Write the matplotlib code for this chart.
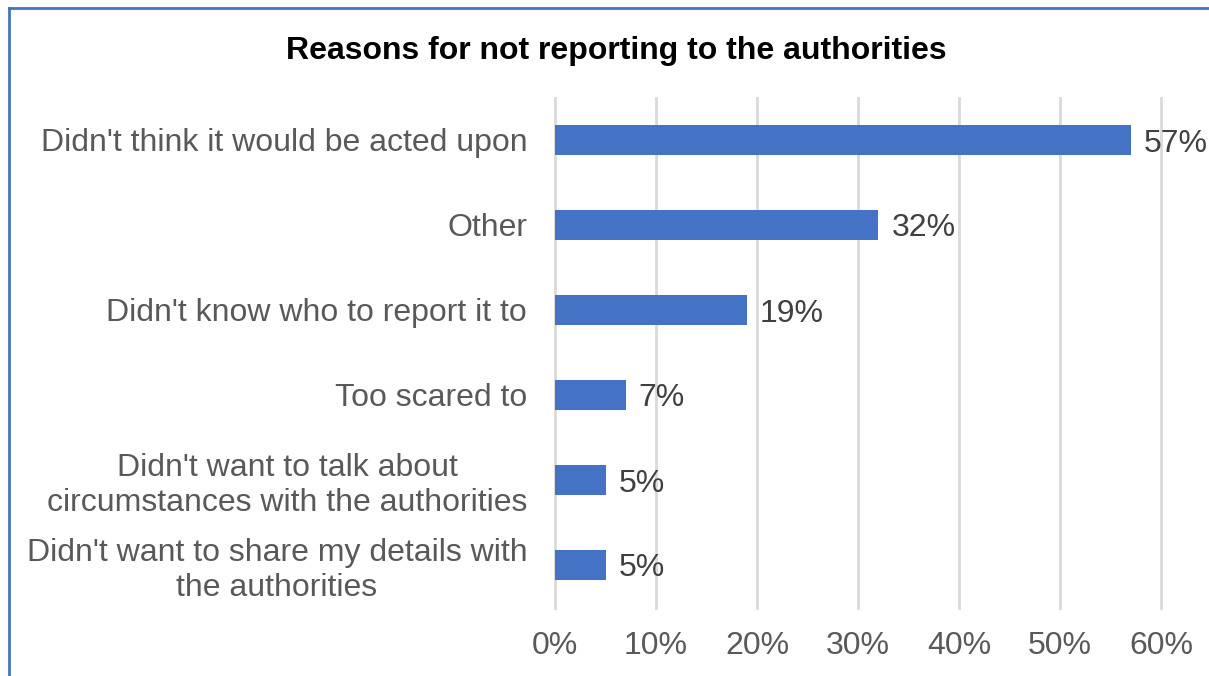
import matplotlib
matplotlib.use("Agg")
import matplotlib.pyplot as plt
from matplotlib.lines import Line2D
from matplotlib.ticker import FuncFormatter

plt.rcParams['font.family'] = ['Liberation Sans', 'DejaVu Sans']

categories = [
    "Didn't think it would be acted upon",
    "Other",
    "Didn't know who to report it to",
    "Too scared to",
    "Didn't want to talk about\ncircumstances with the authorities",
    "Didn't want to share my details with\nthe authorities",
]
values = [57, 32, 19, 7, 5, 5]
xticks = [0, 10, 20, 30, 40, 50, 60]

bar_color = "#4472C4"
text_color = "#595959"
value_color = "#404040"
grid_color = "#D9D9D9"
fs = 23

W, H = 1209, 676
fig = plt.figure(figsize=(W / 100, H / 100), dpi=100)
ax = fig.add_axes([555 / W, 1 - 607.5 / H, (1161 - 555) / W, 510 / H])

y = list(range(len(categories)))
ax.barh(y, values, height=0.35, color=bar_color, zorder=3)
ax.set_ylim(len(categories) - 0.5, -0.5)
ax.set_xlim(0, 60)

ax.set_xticks(xticks)
ax.xaxis.set_major_formatter(FuncFormatter(lambda v, p: f"{v:.0f}%"))
ax.tick_params(axis="x", length=0, pad=17, labelsize=fs, labelcolor=text_color)
ax.set_yticks(y)
ax.set_yticklabels(categories, multialignment="center")
ax.tick_params(axis="y", length=0, pad=20, labelsize=fs, labelcolor=text_color)

ax.grid(axis="x", color=grid_color, linewidth=2, zorder=0)
ax.set_axisbelow(True)
for gl in ax.get_xgridlines():
    gl.set_clip_on(False)
for s in ax.spines.values():
    s.set_visible(False)

for yi, v in zip(y, values):
    ax.text(v + 1.3, yi, f"{v}%", va="center_baseline", ha="left",
            fontsize=fs, color=value_color)

fig.text(616 / W, 1 - 47 / H, "Reasons for not reporting to the authorities",
         ha="center", va="center_baseline", fontsize=23, fontweight="bold",
         color="black")

# chart frame (top and left edges)
fig.add_artist(Line2D([9 / W, 1], [1 - 8 / H, 1 - 8 / H], transform=fig.transFigure,
                      color=bar_color, linewidth=2))
fig.add_artist(Line2D([9 / W, 9 / W], [0, 1 - 8 / H], transform=fig.transFigure,
                      color=bar_color, linewidth=2))

fig.savefig("out.png", dpi=100, facecolor="white")
